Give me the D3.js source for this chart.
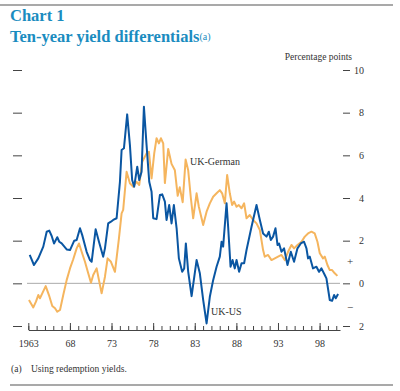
<!DOCTYPE html>
<html>
<head>
<meta charset="utf-8">
<script src="https://cdn.jsdelivr.net/npm/d3@7"></script>
<style>
  body { margin: 0; background: #fff; }
  svg text { font-family: "Liberation Serif", "DejaVu Serif", serif; fill: #333; }
</style>
</head>
<body>
<div id="chart"></div>
<script>
// UK-US ten-year yield differential (decimal year, percentage points)
var usYears = [1963.17, 1963.68, 1964.20, 1964.80, 1965.21, 1965.52, 1965.81, 1966.09, 1966.48, 1966.72,
  1967.01, 1967.61, 1968.01, 1968.52, 1968.81, 1969.21, 1969.48, 1970.01, 1970.41, 1970.61,
  1971.09, 1971.49, 1972.00, 1972.21, 1972.60, 1972.93, 1973.20, 1973.61, 1974.01, 1974.21,
  1974.49, 1974.88, 1975.21, 1975.48, 1975.72, 1976.09, 1976.33, 1976.61, 1976.89, 1977.21,
  1977.53, 1977.81, 1978.01, 1978.41, 1978.81, 1979.09, 1979.41, 1979.61, 1979.93, 1980.21,
  1980.49, 1980.82, 1981.09, 1981.49, 1981.73, 1981.93, 1982.21, 1982.62, 1983.22, 1983.61,
  1984.01, 1984.42, 1984.81, 1985.21, 1985.62, 1986.01, 1986.22, 1986.41, 1986.82, 1987.01,
  1987.30, 1987.54, 1987.81, 1988.02, 1988.33, 1988.62, 1988.93, 1989.22, 1989.82, 1990.42,
  1990.82, 1991.21, 1991.62, 1991.90, 1992.14, 1992.41, 1992.70, 1992.94, 1993.13, 1993.42,
  1993.73, 1994.14, 1994.54, 1994.93, 1995.34, 1995.74, 1996.13, 1996.42, 1996.61, 1996.82,
  1997.21, 1997.62, 1997.93, 1998.22, 1998.62, 1998.82, 1999.22, 1999.50, 1999.74, 1999.94, 2000.22];
var usValues = [1.33, 0.86, 1.17, 1.72, 2.42, 2.47, 2.22, 1.87, 2.16, 1.95,
  1.87, 1.59, 1.56, 2.00, 2.03, 2.58, 2.26, 1.48, 1.09, 1.01,
  2.53, 1.95, 1.25, 1.64, 2.81, 2.89, 2.97, 3.05, 4.76, 6.25,
  6.33, 7.92, 6.48, 4.84, 4.53, 5.47, 4.84, 5.23, 8.28, 6.48,
  4.76, 4.29, 3.05, 3.01, 4.14, 4.17, 3.83, 2.97, 3.67, 2.81,
  3.67, 2.58, 1.17, 0.54, 0.70, 1.87, 0.55, -0.60, 1.09, 0.47,
  -0.78, -1.88, -0.63, 0.15, 0.78, 1.25, 1.95, 1.72, 3.75, 2.65,
  0.78, 1.09, 0.70, 1.09, 0.54, 0.94, 0.94, 1.56, 2.65, 3.67,
  2.97, 2.34, 2.19, 2.42, 2.03, 2.19, 2.58, 1.80, 1.87, 1.48,
  1.64, 0.86, 1.48, 1.01, 1.64, 1.87, 1.95, 1.64, 1.17, 1.25,
  0.70, 0.78, 0.54, 0.70, 0.39, 0.23, -0.78, -0.82, -0.55, -0.70, -0.50];

// UK-German ten-year yield differential
var deYears = [1963.08, 1963.60, 1963.92, 1964.20, 1964.40, 1964.68, 1965.09, 1965.48, 1965.88, 1966.21,
  1966.48, 1966.81, 1967.20, 1967.61, 1968.01, 1968.40, 1968.81, 1969.09, 1969.41, 1969.81,
  1970.20, 1970.53, 1970.80, 1971.21, 1971.49, 1971.81, 1972.21, 1972.53, 1972.93, 1973.41,
  1973.89, 1974.21, 1974.40, 1974.81, 1975.21, 1975.61, 1976.01, 1976.33, 1976.69, 1977.21,
  1977.49, 1977.81, 1978.13, 1978.41, 1978.69, 1978.93, 1979.21, 1979.41, 1979.81, 1980.21,
  1980.61, 1980.95, 1981.20, 1981.55, 1981.90, 1982.21, 1982.53, 1982.81, 1983.22, 1983.49, 1984.01,
  1984.42, 1984.81, 1985.21, 1985.62, 1986.01, 1986.29, 1986.61, 1986.89, 1987.21, 1987.49,
  1987.73, 1988.02, 1988.29, 1988.62, 1988.93, 1989.22, 1989.61, 1990.01, 1990.42, 1990.82,
  1991.21, 1991.41, 1991.81, 1992.22, 1992.62, 1993.01, 1993.42, 1993.81, 1994.21, 1994.62,
  1994.93, 1995.34, 1995.82, 1996.22, 1996.61, 1997.02, 1997.41, 1997.74, 1998.02, 1998.41,
  1998.62, 1998.94, 1999.22, 1999.50, 1999.82, 2000.14];
var deValues = [-0.78, -1.13, -0.86, -0.55, -0.70, -0.47, -0.13, -0.55, -1.06, -1.17,
  -1.33, -1.25, -0.55, 0.15, 0.70, 1.13, 1.64, 1.87, 1.48, 1.01,
  0.47, 0.03, 0.39, 0.70, 0.15, -0.47, 0.31, 1.17, 1.01, 0.54,
  2.11, 3.28, 3.44, 5.23, 4.69, 4.53, 4.76, 4.61, 5.70, 6.09,
  6.17, 4.92, 6.09, 6.80, 6.56, 6.80, 6.56, 4.70, 6.30, 5.60,
  5.30, 4.10, 4.50, 3.80, 5.80, 5.30, 4.00, 3.05, 4.22, 3.59, 2.73,
  3.36, 3.75, 4.06, 4.22, 4.37, 4.22, 3.75, 5.08, 4.22, 3.67,
  3.83, 3.59, 3.67, 3.52, 3.75, 3.05, 3.20, 2.97, 2.81, 2.50,
  1.56, 1.25, 1.33, 1.09, 1.17, 1.25, 1.33, 1.09, 1.48, 1.80,
  1.64, 1.80, 1.95, 2.19, 2.34, 2.42, 2.34, 1.95, 1.41, 1.17,
  1.25, 0.86, 0.62, 0.62, 0.47, 0.35];

var yTicks = [-2, 0, 2, 4, 6, 8, 10];
var yTickLabels = ["2", "0", "2", "4", "6", "8", "10"];
var xMajorTicks = [1963, 1968, 1973, 1978, 1983, 1988, 1993, 1998];
var xMajorLabels = ["1963", "68", "73", "78", "83", "88", "93", "98"];

var blue = "#0a56a2";
var orange = "#f5b55e";
var titleColor = "#1a8cc0";
var serif = "'Liberation Serif', 'Times New Roman', serif";

var svg = d3.select("#chart").append("svg")
  .attr("width", 400)
  .attr("height", 391);

var x = d3.scaleLinear().domain([1963, 2000.45]).range([28.3, 340]);
var y = d3.scaleLinear().domain([-2, 10]).range([326, 70]);

// rules top and bottom
svg.append("line").attr("x1", 0).attr("x2", 393).attr("y1", 5).attr("y2", 5)
  .style("stroke", "#555").style("stroke-width", 1.2);
svg.append("line").attr("x1", 10).attr("x2", 393).attr("y1", 385).attr("y2", 385)
  .style("stroke", "#555").style("stroke-width", 1.2);

// titles
svg.append("text").attr("x", 10).attr("y", 21)
  .style("font-family", serif)
  .style("font-size", "16.5px").style("font-weight", "bold").style("fill", titleColor)
  .text("Chart 1");
var t2 = svg.append("text").attr("x", 10).attr("y", 42)
  .style("font-family", serif)
  .style("font-size", "16.5px").style("font-weight", "bold").style("fill", titleColor)
  .text("Ten-year yield differentials");
t2.append("tspan").style("font-size", "10px").style("font-weight", "normal").attr("dy", -2)
  .text("(a)");

svg.append("text").attr("x", 352).attr("y", 60).attr("text-anchor", "end")
  .style("font-size", "9.5px").text("Percentage points");

// zero line
svg.append("line").attr("x1", 27).attr("x2", 340).attr("y1", y(0)).attr("y2", y(0))
  .style("stroke", "#aaa").style("stroke-width", 1);

// left ticks (no labels)
var leftAxis = svg.append("g").attr("transform", "translate(22,0)")
  .call(d3.axisLeft(y).tickValues(yTicks).tickSize(9).tickFormat(""));
leftAxis.select(".domain").remove();

// right axis
var rightAxis = svg.append("g").attr("transform", "translate(343,0)")
  .call(d3.axisRight(y).tickValues(yTicks).tickSize(7)
    .tickFormat(function(d, i) { return yTickLabels[i]; }));
rightAxis.select(".domain").remove();
rightAxis.selectAll("text").attr("text-anchor", "end").attr("x", 21)
  .style("font-size", "10px");

// sign markers
svg.append("text").attr("x", 350).attr("y", y(1.06)).attr("dy", "0.35em")
  .attr("text-anchor", "middle").style("font-size", "11px").text("+");
svg.append("text").attr("x", 350).attr("y", y(-1.1)).attr("dy", "0.35em")
  .attr("text-anchor", "middle").style("font-size", "11px").text("\u2212");

svg.selectAll(".tick line").style("stroke", "#444");

// x axis: minor yearly ticks and major 5-year ticks
var allYears = d3.range(1963, 2001);
var minorAxis = svg.append("g").attr("transform", "translate(0,330)")
  .call(d3.axisBottom(x).tickValues(allYears).tickSize(-4).tickSizeOuter(0).tickFormat(""));
minorAxis.select(".domain").style("stroke", "#444");
minorAxis.selectAll(".tick line").style("stroke", "#444");

var majorAxis = svg.append("g").attr("transform", "translate(0,330)")
  .call(d3.axisBottom(x).tickValues(xMajorTicks).tickSize(-7).tickPadding(10)
    .tickFormat(function(d, i) { return xMajorLabels[i]; }));
majorAxis.select(".domain").remove();
majorAxis.selectAll(".tick line").style("stroke", "#444");
majorAxis.selectAll("text").style("font-size", "10px");

svg.selectAll(".tick text").style("font-family", serif).style("fill", "#333");

// lines
var line = d3.line()
  .x(function(d) { return x(d[0]); })
  .y(function(d) { return y(d[1]); });

svg.append("path")
  .datum(d3.zip(deYears, deValues))
  .attr("d", line)
  .style("fill", "none").style("stroke", orange).style("stroke-width", 2)
  .style("stroke-linejoin", "round");

svg.append("path")
  .datum(d3.zip(usYears, usValues))
  .attr("d", line)
  .style("fill", "none").style("stroke", blue).style("stroke-width", 2)
  .style("stroke-linejoin", "round");

// series labels
svg.append("text").attr("x", 190).attr("y", 165).style("font-size", "10px").text("UK-German");
svg.append("text").attr("x", 211).attr("y", 315).style("font-size", "10px").text("UK-US");

// footnote
svg.append("text").attr("x", 11).attr("y", 372).style("font-size", "9.5px").text("(a)");
svg.append("text").attr("x", 31).attr("y", 372).style("font-size", "9.5px").text("Using redemption yields.");
</script>
</body>
</html>
